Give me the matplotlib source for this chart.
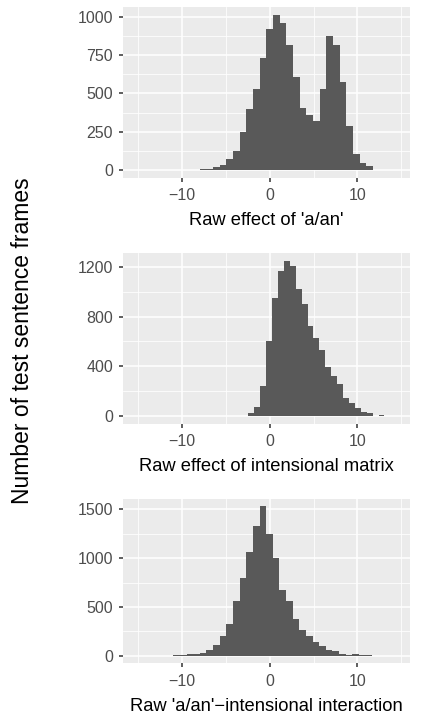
import numpy as np
import matplotlib
matplotlib.use("Agg")
import matplotlib.pyplot as plt
from matplotlib.ticker import MultipleLocator

plt.rcParams['font.family'] = ['Liberation Sans', 'DejaVu Sans']

# counts per bin (30 bins each)
aan_range = (-10.25, 12.53)
aan_counts = [2, 2, 3, 6, 8, 20, 33, 72, 124, 248, 398, 528, 733, 920, 1011,
              959, 815, 607, 404, 359, 320, 528, 874, 815, 574, 287, 104, 46, 26, 3]

intens_range = (-5.13, 15.11)
intens_counts = [1, 1, 1, 2, 24, 78, 243, 606, 946, 1164, 1245, 1205, 1019, 898, 728,
                 631, 534, 396, 323, 259, 146, 105, 65, 32, 24, 3, 8, 2, 2, 1]

inter_range = (-11.0, 11.7)
inter_counts = [7, 7, 16, 16, 33, 56, 115, 204, 323, 560, 798, 1065, 1332, 1530, 1253,
                1006, 679, 560, 382, 264, 204, 145, 106, 56, 46, 16, 7, 16, 7, 6]

xlabels = ["Raw effect of 'a/an'", "Raw effect of intensional matrix",
           "Raw 'a/an'\u2212intensional interaction"]
ytick_steps = [250, 400, 500]

panels = [(aan_range, aan_counts), (intens_range, intens_counts), (inter_range, inter_counts)]

fig = plt.figure(figsize=(4.35, 7.21), dpi=100)
# [left, bottom, width, height]
boxes = [[0.2835, 0.7535, 0.659, 0.2363],
         [0.2835, 0.4119, 0.659, 0.2368],
         [0.2835, 0.0800, 0.659, 0.2279]]

for box, (rng, counts), lab, step in zip(boxes, panels, xlabels, ytick_steps):
    ax = fig.add_axes(box)
    edges = np.linspace(rng[0], rng[1], len(counts) + 1)
    ax.bar(edges[:-1], counts, width=np.diff(edges), align='edge',
           color='#595959', linewidth=0, zorder=3)
    ax.set_facecolor('#EBEBEB')
    for s in ax.spines.values():
        s.set_visible(False)
    top = max(counts)
    ax.set_ylim(-0.05 * top, 1.05 * top)
    ax.set_xlim(-16.7, 16.0)
    ax.xaxis.set_major_locator(MultipleLocator(10))
    ax.xaxis.set_minor_locator(MultipleLocator(5))
    ax.yaxis.set_major_locator(MultipleLocator(step))
    ax.yaxis.set_minor_locator(MultipleLocator(step / 2))
    ax.grid(which='major', color='white', linewidth=1.1, zorder=0)
    ax.grid(which='minor', color='white', linewidth=0.55, zorder=0)
    ax.set_axisbelow(True)
    ax.tick_params(which='major', length=3, width=1.1, color='#333333',
                   labelcolor='#4D4D4D', labelsize=11.5, pad=4.5)
    ax.tick_params(which='minor', length=0)
    ax.set_xlabel(lab, fontsize=13.2, color='black', labelpad=6.5)

fig.text(0.052, 0.527, 'Number of test sentence frames', rotation=90,
         ha='center', va='center', fontsize=16.5)

fig.savefig('out.png', dpi=100)
